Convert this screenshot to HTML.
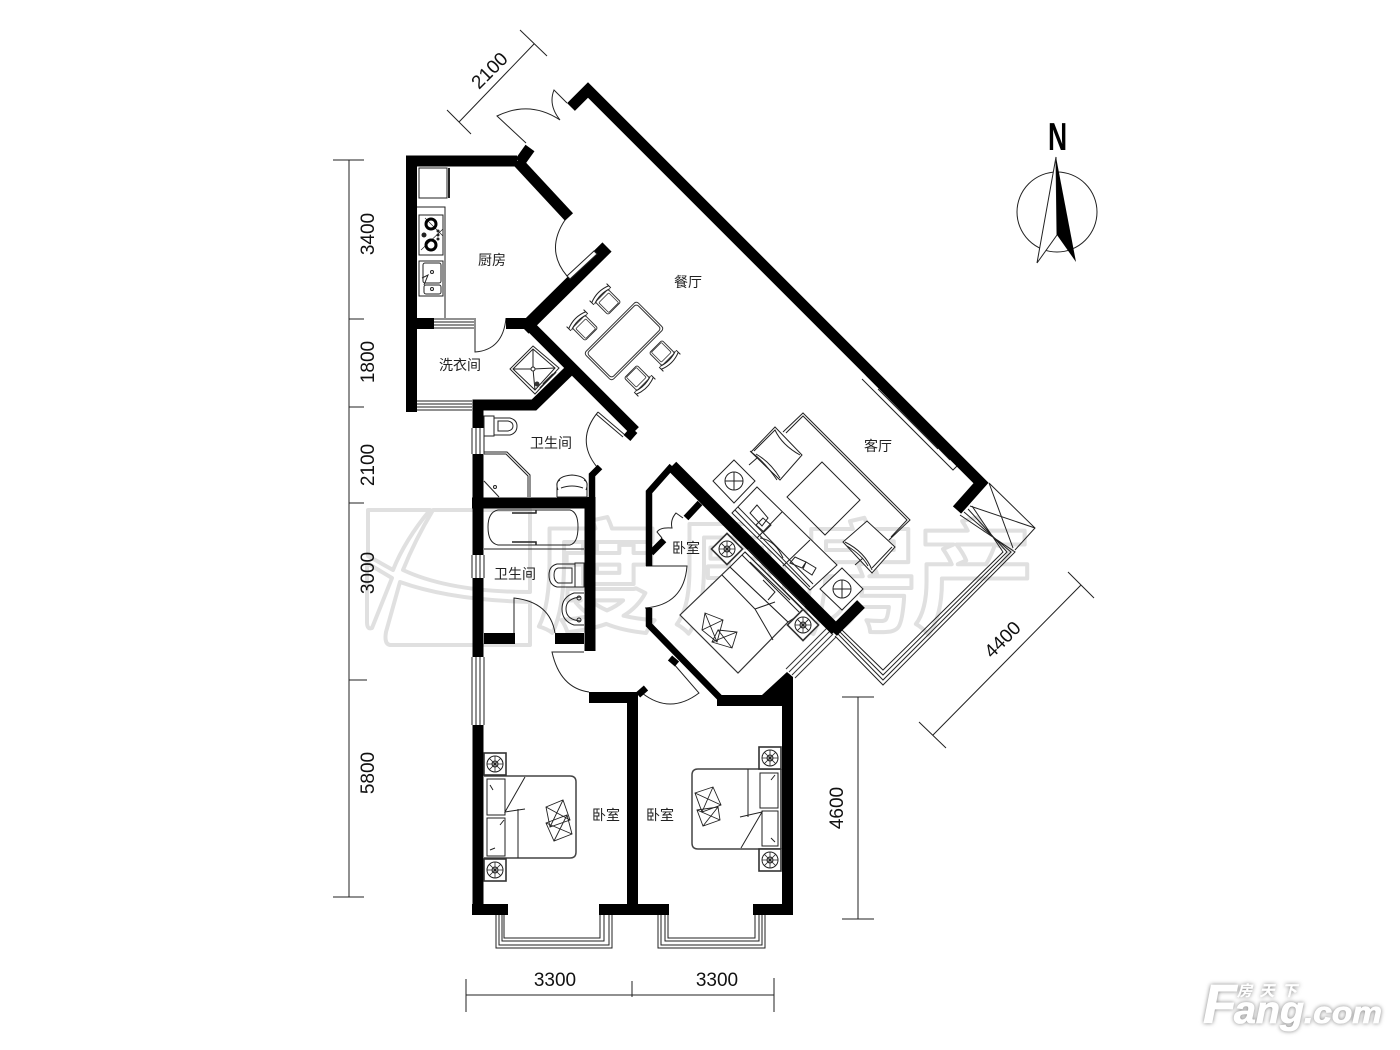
<!DOCTYPE html>
<html><head><meta charset="utf-8"><style>
html,body{margin:0;padding:0;background:#fff}
svg{display:block}
.t{font-family:"Liberation Sans","Noto Sans CJK SC",sans-serif;font-size:14px;fill:#222;text-anchor:middle}
.d{font-family:"Liberation Sans",sans-serif;font-size:19px;fill:#111;text-anchor:middle}
.w{fill:none;stroke:#000;stroke-linejoin:miter;stroke-linecap:butt}
.l{fill:none;stroke:#222;stroke-width:1}
.wm{font-family:"Liberation Sans","Noto Sans CJK SC",sans-serif;font-weight:700;font-size:122px;fill:#fff;stroke:#e0e0e0;stroke-width:4;stroke-linejoin:round;text-anchor:middle}
</style></head><body>
<svg width="1400" height="1050" viewBox="0 0 1400 1050" xmlns="http://www.w3.org/2000/svg">
<defs>
<g id="ns"><rect x="-11" y="-11" width="22" height="22" fill="#fff" stroke="#333" stroke-width="1.6"/><circle r="8" fill="none" stroke="#222"/><circle r="3" fill="none" stroke="#222"/><path d="M-8 0H8M0-8V8M-5.6-5.6L5.6 5.6M-5.6 5.6L5.6-5.6" stroke="#222" stroke-width=".8"/></g>
<g id="chair"><rect x="-9" y="-9" width="18" height="18" rx="2" fill="#fff" stroke="#333"/><rect x="-7" y="-6" width="14" height="14" rx="1" fill="none" stroke="#333" stroke-width=".8"/><path d="M-12-11Q0-16 12-11M-11-8Q0-12 11-8M-12-14V-8M12-14V-8" fill="none" stroke="#222"/></g>
</defs>

<!-- watermark -->
<g fill="#fff" stroke="#e0e0e0" stroke-width="4" stroke-linejoin="round">
<path d="M368 510H430Q405 540 393 570L368 556Z"/>
<path d="M367 563L392 578L372 628Q367 630 367 622Z"/>
<path d="M433 510H530V592Q450 592 403 570Q415 540 433 510Z"/>
<path d="M400 582Q450 600 530 602V645H390Q384 644 386 632Z"/>
</g>
<text class="wm" x="597" y="622">度</text>
<text class="wm" x="735" y="622">周</text>
<text class="wm" x="858" y="622">房</text>
<text class="wm" x="974" y="622">产</text>

<!-- dimension lines -->
<g stroke="#222" stroke-width="1" fill="none">
<path d="M349 160V897M333 160H364M349 319H364M349 407H364M349 503H364M349 680H367M333 897H364"/>
<path d="M447 110L471 134M459 122L534 44M520 30L547 56"/>
<path d="M933 735L1081 585M919 722L946 748M1068 572L1094 598"/>
<path d="M858 697V919M842 697H874M842 919H874"/>
<path d="M466 995H774M466 979V1012M632 981V997M774 978V1012"/>
</g>
<text class="d" transform="translate(374,234) rotate(-90)">3400</text>
<text class="d" transform="translate(374,362) rotate(-90)">1800</text>
<text class="d" transform="translate(374,465) rotate(-90)">2100</text>
<text class="d" transform="translate(374,573) rotate(-90)">3000</text>
<text class="d" transform="translate(374,773) rotate(-90)">5800</text>
<text class="d" transform="translate(843,808) rotate(-90)">4600</text>
<text class="d" transform="translate(494,75) rotate(-45)">2100</text>
<text class="d" transform="translate(1007,644) rotate(-45)">4400</text>
<text class="d" x="555" y="986">3300</text>
<text class="d" x="717" y="986">3300</text>

<!-- windows -->
<g class="l">
<path d="M434 319H474M434 322H474M434 325H474M434 328H474"/>
<path d="M417 401H472M417 404H472M417 407H472M417 410H472"/>
<path d="M472 428V454M476 428V454M480 428V454M484 428V454"/>
<path d="M472 555V578M476 555V578M480 555V578M484 555V578"/>
<path d="M472 657V725M476 657V725M480 657V725M484 657V725"/>
<path d="M496 915V948H612V915M499 915V945H609V915M502 915V941H604V915M504 915V938H600V915"/>
<path d="M658 915V948H765V915M661 915V945H762V915M665 915V941H759V915M668 915V938H755V915"/>
<path d="M835 636L883 685L1015 552L960 515M838 634L883 680L1011 552L964 512M840 632L883 675L1007 552L968 509M842 630L883 670L1003 552L972 506"/>
<path d="M989 483L1035 528L1015 550M970 506L1035 528M989 483L1013 548"/>
<path d="M833 634L792 675M830 631L789 672M827 628L786 669M836 637L795 678" stroke="#333"/>
<path d="M862 379L953 470L959 464M875 392L935 452M878 389L938 449M866 375L950 460"/>
</g>

<!-- doors -->
<g class="l">
<path d="M526 143L497 116Q530 100 560 120Q548 105 554 90L567 103"/>
<path d="M565 220Q545 250 567 276"/>
<path d="M475 318V352Q503 350 506 318"/>
<path d="M598 412Q575 440 597 467M598 412L625 435M596 414L623 437"/>
<path d="M514 633V598Q550 602 555 633"/>
<path d="M584 652H552Q560 688 589 692"/>
<path d="M642 693Q670 715 699 693L673 663"/>
<path d="M646 566H687Q684 605 645 608"/>
<path d="M662 538L657 532Q660 527 672 528Q670 520 676 513L683 518"/>
</g>

<!-- walls -->
<g class="w" stroke-width="11">
<path d="M571 107L588 90L981 483L957 510"/>
<path d="M411.5 412V161H517"/>
<path d="M520 162L530 148"/>
<path d="M517 161L569 217"/>
<path d="M526 322L635 431"/>
<path d="M417 323.500H434M506 323.500H534"/>
<path d="M478 428V405H534L574 366"/>
<path d="M478 454V555M478 578V657M478 725V915"/>
<path d="M472 503H595M590 497V651"/>
<path d="M484 638.500H515M555 638.500H584"/>
<path d="M589 697.500H638M632.500 692V915"/>
<path d="M472 909.500H508M599 909.500H669M753 909.500H793M787.500 680V915"/>
<path d="M717 700.500H787"/>
<path d="M672 466L836 630" stroke-width="12"/>
<path d="M833 632L861 604" stroke-width="11"/>
</g>
<path d="M524 329L607 247" class="w" stroke-width="13"/>
<polygon points="762,695 787,672 793,677 793,706 762,706" fill="#000"/>
<g class="w" stroke-width="6.500">
<path d="M592 497V475L600 467"/>
<path d="M672 466L649 492V566"/>
<path d="M649 608V625L722 700"/>
<path d="M700 503L686 518"/>
<path d="M664 540L651 553"/>
<path d="M670 658L677 664"/>
<path d="M638 695L646 688"/>
</g>
<path d="M634 430L627 438" class="w" stroke-width="9"/>
<!-- kitchen door leaf, notched into wall -->
<path d="M567 276L594 251L597 254L570 279Z" fill="#fff" stroke="#222"/>

<!-- kitchen -->
<g class="l">
<rect x="419" y="168" width="28" height="30"/><path d="M449 168V198" stroke-width="2"/>
<path d="M417 207H445V318"/>
<rect x="419" y="215" width="24" height="40"/>
<rect x="419" y="261" width="24" height="35"/>
<rect x="423" y="263" width="18" height="20" rx="2"/>
<rect x="424" y="285" width="17" height="9" rx="2"/>
<path d="M421 250L443 229M425 218L443 236" stroke-width=".7"/>
</g>
<circle cx="431" cy="224" r="5" fill="none" stroke="#000" stroke-width="3"/>
<circle cx="431" cy="245" r="5" fill="none" stroke="#000" stroke-width="3"/>
<circle cx="424" cy="235" r="2.500" fill="#222"/><circle cx="438" cy="235" r="1.500" fill="#222"/><circle cx="438" cy="231" r="1.500" fill="#222"/><circle cx="438" cy="239" r="1.500" fill="#222"/>
<path d="M422 278L428 275L424 285" class="l"/><circle cx="432" cy="272" r="1.500" class="l"/><circle cx="432" cy="289" r="1.500" class="l"/>

<!-- washer -->
<g class="l"><path d="M533 346L559 368L535 394L510 369Z"/><path d="M533 349L555 368L535 390L513 369Z"/><path d="M533 349V368M513 369L533 369L535 390M533 369L555 368"/><path d="M543 384L553 374M540 388L556 372" stroke-width="1.500"/></g>
<circle cx="533" cy="369" r="2" fill="#fff" stroke="#222"/>
<circle cx="537" cy="384" r="2.500" fill="#333"/>

<!-- dining -->
<g transform="translate(624,341) rotate(-45)"><rect x="-37" y="-19.500" width="74" height="39" rx="3" fill="#fff" stroke="#333"/><rect x="-35" y="-17.500" width="70" height="35" rx="3" fill="none" stroke="#333"/></g>
<use href="#chair" transform="translate(608,302) rotate(-45)"/>
<use href="#chair" transform="translate(585,328) rotate(-45)"/>
<use href="#chair" transform="translate(662,353) rotate(135)"/>
<use href="#chair" transform="translate(637,378) rotate(135)"/>

<!-- bath 1 -->
<g class="l">
<rect x="484" y="416" width="10" height="20"/><path d="M494 418H510Q517 420 517 426Q517 433 510 435H494"/><path d="M498 421H508Q513 422 513 426Q513 430 508 431H498Z"/>
<path d="M484 452H507L530 475V497M484 454H506L528 476V497"/>
<path d="M484 481L499 497"/><circle cx="495" cy="487" r="1.500"/>
<path d="M557 497V484Q558 476 572 475Q586 476 587 484V497H557M561 488Q572 484 583 488M558 490Q555 482 560 480M586 490Q589 482 584 480"/>
</g>
<!-- bath 2 -->
<g class="l">
<path d="M498 510H570Q578 512 578 527Q578 543 570 545H498Q488 543 488 527Q488 512 498 510Z"/>
<path d="M512 513H536V510M512 542H536V545" stroke-width="1.500"/>
<path d="M484 549H584"/>
<rect x="575" y="563" width="9" height="24"/>
<path d="M575 564H557Q549 566 549 575Q549 585 557 587H575M572 568H558Q554 569 554 575Q554 581 558 583H572Z"/>
<path d="M584 593H574Q562 597 562 609Q562 621 574 625H584M581 597Q566 598 566 609Q566 620 581 621"/>
<circle cx="579" cy="598" r="2"/><circle cx="579" cy="620" r="2"/>
</g>

<!-- living -->
<g class="l">
<path d="M783 432L803 413L910 520L889 540M786 433L803 416L907 520L891 537"/>
<path d="M822 462L860 500L825 535L787 497Z"/>
<path d="M751 452L775 427L802 455L780 480Z" fill="#fff"/>
<path d="M754 451L775 430Q782 445 800 455M756 454Q770 462 780 478M750 451Q765 462 777 480" />
<path d="M843 542L867 521L895 547L872 573Z" fill="#fff"/>
<path d="M845 542Q865 552 872 570M847 546Q862 555 868 566M892 547L872 568"/>
<path d="M734 460L755 481L734 503L713 481Z" fill="#fff"/><circle cx="734" cy="481" r="9"/><path d="M725 481H743M734 472V490"/>
<path d="M842 568L863 589L842 610L820 589Z" fill="#fff"/><circle cx="842" cy="589" r="9"/><path d="M833 589H851M842 580V598"/>
<path d="M749 465L757 458M855 565L863 558"/>
<path d="M732 513L757 487L837 565L810 590Z" fill="#fff"/>
<path d="M782 512L757 538M810 540L783 566"/>
<path d="M735 510L810 587M738 507L813 584" />
<path d="M760 538Q775 540 783 558M757 505L750 513L762 526L768 518ZM763 518L756 525L764 532L771 525Z"/>
<path d="M795 557L790 563L802 568L806 562ZM806 562L803 569L812 575L816 568Z"/>
</g>

<!-- center bedroom -->
<g class="l">
<path d="M680 615L738 673L788 622L730 567Z" fill="#fff" stroke="#333" stroke-width="1.200"/>
<path d="M730 567L745 552L805 611L788 622Z" fill="#fff"/>
<path d="M722 575L755 609L775 602M755 609L773 640M763 580L775 592L768 600M750 562L790 600"/>
<path d="M745 552L802 609M748 549L805 606M742 555L799 612"/>
<path d="M705 613L723 620L717 642L702 630ZM705 613L717 642M723 620L702 630M718 630L737 632L732 648L712 642ZM718 630L732 648M737 632L712 642" stroke-width=".9"/>
</g>
<use href="#ns" transform="translate(727,549) rotate(45)"/>
<use href="#ns" transform="translate(803,625) rotate(45)"/>

<!-- bottom beds -->
<g class="l">
<path d="M484 776H570Q576 776 576 782V852Q576 858 570 858H484" stroke="#444" stroke-width="1.500"/>
<path d="M518 809V858"/>
<path d="M525 777L505 812L525 809"/>
<rect x="487" y="779" width="18" height="36"/><rect x="487" y="818" width="18" height="38"/>
<path d="M490 785L493 790M490 850L495 848M504 820L500 825"/>
<path d="M546 807L563 800L570 820L550 827ZM546 807L570 820M563 800L550 827M546 823L567 815L572 834L554 841ZM546 823L572 834M567 815L554 841" fill="#fff" stroke-width=".9"/>
<path d="M780 769H698Q692 769 692 775V843Q692 849 698 849H780" stroke="#444" stroke-width="1.500"/>
<path d="M748 769V817"/>
<path d="M740 817L762 812L741 848"/>
<rect x="760" y="773" width="18" height="35"/><rect x="762" y="811" width="16" height="35"/>
<path d="M775 775L771 780M775 842L771 838"/>
<path d="M781 769V849" stroke-width="1.500"/>
<path d="M695 793L713 787L721 805L702 812ZM695 793L721 805M713 787L702 812M697 810L718 807L720 820L703 826ZM697 810L720 820M718 807L703 826" fill="#fff" stroke-width=".9"/>
</g>
<use href="#ns" x="495" y="764"/>
<use href="#ns" x="495" y="870"/>
<use href="#ns" x="770" y="758"/>
<use href="#ns" x="770" y="860"/>

<!-- labels -->
<text class="t" x="492" y="265">厨房</text>
<text class="t" x="688" y="287">餐厅</text>
<text class="t" x="460" y="370">洗衣间</text>
<text class="t" x="551" y="448">卫生间</text>
<text class="t" x="515" y="579">卫生间</text>
<text class="t" x="878" y="451">客厅</text>
<text class="t" x="686" y="553">卧室</text>
<text class="t" x="606" y="820">卧室</text>
<text class="t" x="660" y="820">卧室</text>

<!-- north -->
<text x="0" y="0" transform="translate(1048,150) scale(.68,1)" font-family="Liberation Sans,sans-serif" font-size="39" font-weight="700" fill="#000">N</text>
<circle cx="1057" cy="212" r="40" fill="none" stroke="#222"/>
<path d="M1056 157L1037 263L1057 235Z" fill="#fff" stroke="#222"/>
<path d="M1056 157L1076 262L1057 235Z" fill="#000"/>

<!-- logo -->
<g font-family="Liberation Sans,sans-serif" font-weight="700" font-style="italic" fill="#fff" stroke="#fff" stroke-width=".8" style="filter:drop-shadow(0 0 2px rgba(0,0,0,.5))">
<text x="1203" y="1023" font-size="55">F</text>
<text x="1234" y="1023" font-size="38" textLength="70" lengthAdjust="spacingAndGlyphs">ang</text>
<text x="1304" y="1023" font-size="31" textLength="78" lengthAdjust="spacingAndGlyphs">.com</text>
<text x="1237" y="996" font-size="15" textLength="60" stroke-width=".2" font-family="Liberation Sans,Noto Sans CJK SC,sans-serif">房天下</text>
</g>
</svg>
</body></html>
